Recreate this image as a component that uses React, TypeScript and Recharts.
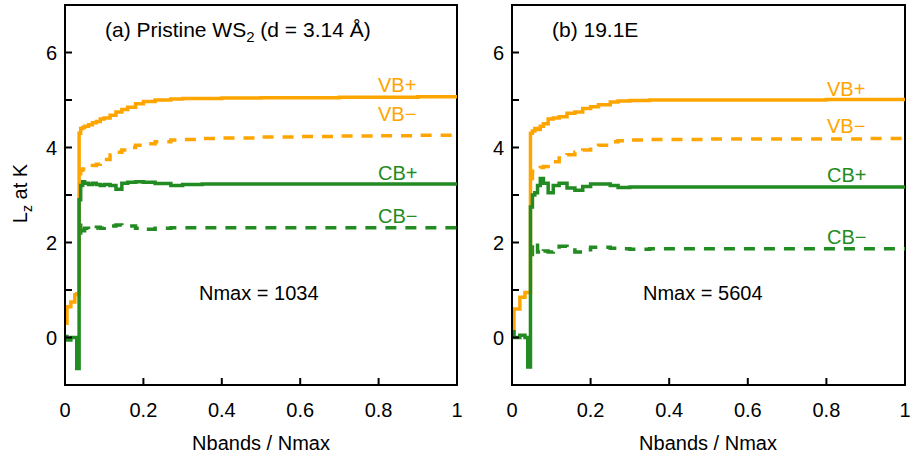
import { LineChart, Line, XAxis, YAxis, ReferenceArea } from 'recharts';

const ORANGE = '#FFA500';
const GREEN = '#228B22';
const FONT = '"Liberation Sans", Arial, sans-serif';

// panel (a) pristine WS2, Nmax = 1034
const xA = [0, 0.005, 0.015, 0.025, 0.03, 0.036, 0.04, 0.045, 0.05, 0.06, 0.07, 0.08, 0.09, 0.1, 0.115, 0.13, 0.145, 0.16, 0.18, 0.2, 0.23, 0.27, 0.3, 0.35, 0.4, 0.5, 0.6, 0.7, 0.8, 0.9, 1];
const vbPlusA = [0.3, 0.65, 0.75, 0.9, 0.92, 4.3, 4.4, 4.42, 4.45, 4.48, 4.52, 4.55, 4.6, 4.62, 4.68, 4.75, 4.8, 4.85, 4.92, 4.97, 5.0, 5.02, 5.03, 5.03, 5.04, 5.05, 5.05, 5.06, 5.06, 5.07, 5.07];
const vbMinusA = [null, null, null, null, null, 3.45, 3.52, 3.55, 3.55, 3.58, 3.62, 3.65, 3.68, 3.75, 3.84, 3.9, 3.95, 4.0, 4.05, 4.08, 4.12, 4.16, 4.17, 4.19, 4.2, 4.22, 4.23, 4.24, 4.25, 4.26, 4.26];
const cbPlusA = [0.02, -0.05, 0, 0, -0.65, 2.9, 3.2, 3.28, 3.25, 3.22, 3.25, 3.22, 3.2, 3.22, 3.2, 3.12, 3.25, 3.27, 3.28, 3.27, 3.24, 3.2, 3.22, 3.23, 3.23, 3.23, 3.23, 3.23, 3.23, 3.23, 3.23];
const cbMinusA = [null, null, null, null, null, 2.2, 2.42, 2.25, 2.3, 2.28, 2.3, 2.32, 2.3, 2.33, 2.35, 2.37, 2.36, 2.35, 2.3, 2.28, 2.3, 2.31, 2.31, 2.31, 2.31, 2.31, 2.31, 2.31, 2.31, 2.31, 2.31];

// panel (b) 19.1E, Nmax = 5604
const xB = [0, 0.005, 0.02, 0.033, 0.04, 0.047, 0.052, 0.058, 0.065, 0.072, 0.08, 0.092, 0.105, 0.12, 0.14, 0.16, 0.18, 0.2, 0.22, 0.25, 0.27, 0.3, 0.35, 0.4, 0.5, 0.6, 0.7, 0.8, 0.9, 1];
const vbPlusB = [0.1, 0.6, 0.85, 0.95, 0.95, 4.3, 4.35, 4.4, 4.38, 4.45, 4.5, 4.6, 4.62, 4.65, 4.72, 4.75, 4.82, 4.86, 4.9, 4.96, 4.98, 4.99, 5.0, 5.0, 5.0, 5.0, 5.0, 5.01, 5.01, 5.01];
const vbMinusB = [null, null, null, null, null, 3.35, 3.5, 3.52, 3.55, 3.58, 3.6, 3.65, 3.7, 3.78, 3.85, 3.9, 3.95, 4.0, 4.05, 4.12, 4.14, 4.16, 4.17, 4.17, 4.18, 4.18, 4.18, 4.18, 4.19, 4.19];
const cbPlusB = [0.12, 0, 0.05, 0, -0.62, 2.75, 3.0, 3.05, 3.2, 3.35, 3.25, 3.05, 3.2, 3.25, 3.15, 3.1, 3.18, 3.23, 3.23, 3.2, 3.16, 3.17, 3.17, 3.17, 3.17, 3.17, 3.17, 3.17, 3.17, 3.17];
const cbMinusB = [null, null, null, null, null, 1.75, 1.95, 2.0, 1.8, 1.75, 1.82, 1.8, 1.85, 1.92, 1.9, 1.8, 1.85, 1.9, 1.9, 1.88, 1.87, 1.86, 1.87, 1.87, 1.87, 1.87, 1.87, 1.87, 1.87, 1.87];

const xTicks = [0, 0.2, 0.4, 0.6, 0.8, 1];
const yTicks = [-1, 0, 1, 2, 3, 4, 5, 6, 7];

const build = (x: number[], vbp: any[], vbm: any[], cbp: any[], cbm: any[]) =>
  x.map((v, i) => ({ x: v, vbp: vbp[i], vbm: vbm[i], cbp: cbp[i], cbm: cbm[i] }));

const dataA = build(xA, vbPlusA, vbMinusA, cbPlusA, cbMinusA);
const dataB = build(xB, vbPlusB, vbMinusB, cbPlusB, cbMinusB);

const tickStyle = { fill: '#000', fontSize: 20, fontFamily: FONT };

const Panel = ({ data, width, right }: { data: any[]; width: number; right: number }) => (
  <LineChart width={width} height={462} data={data} margin={{ top: 5, right, bottom: 0, left: 0 }}>
    <XAxis
      type="number"
      dataKey="x"
      domain={[0, 1]}
      ticks={xTicks}
      tickFormatter={(v) => String(v)}
      height={77}
      tickSize={-7}
      tickMargin={25}
      tick={tickStyle}
      stroke="#000"
      strokeWidth={2}
      allowDataOverflow
    />
    <YAxis
      type="number"
      domain={[-1, 7]}
      ticks={yTicks}
      tickFormatter={(v) => (v >= 0 && v % 2 === 0 && v < 7 ? String(v) : '')}
      width={65}
      tickSize={-7}
      tickMargin={15}
      tick={tickStyle}
      stroke="#000"
      strokeWidth={2}
      allowDataOverflow
    />
    <ReferenceArea x1={0} x2={1} y1={-1} y2={7} fill="none" stroke="#000" strokeWidth={2} />
    <Line type="stepAfter" dataKey="vbm" stroke={ORANGE} strokeWidth={3.5} strokeDasharray="11 9" dot={false} isAnimationActive={false} />
    <Line type="stepAfter" dataKey="cbm" stroke={GREEN} strokeWidth={3.5} strokeDasharray="11 9" dot={false} isAnimationActive={false} />
    <Line type="stepAfter" dataKey="vbp" stroke={ORANGE} strokeWidth={3.5} dot={false} isAnimationActive={false} />
    <Line type="stepAfter" dataKey="cbp" stroke={GREEN} strokeWidth={3.5} dot={false} isAnimationActive={false} />
  </LineChart>
);

const Txt = ({ left, top, color = '#000', size = 20, children }: any) => (
  <div style={{ position: 'absolute', left, top, color, fontSize: size, lineHeight: '20px', fontFamily: FONT, whiteSpace: 'nowrap' }}>
    {children}
  </div>
);

const Centered = ({ cx, top, children }: any) => (
  <div style={{ position: 'absolute', left: cx - 150, top, width: 300, textAlign: 'center', fontSize: 20, lineHeight: '20px', fontFamily: FONT }}>
    {children}
  </div>
);

export default function App() {
  return (
    <div style={{ position: 'absolute', left: 0, top: 0, width: 913, height: 462, background: '#fff', overflow: 'hidden' }}>
      <div style={{ position: 'absolute', left: 0, top: 0 }}>
        <Panel data={dataA} width={470} right={13} />
      </div>
      <div style={{ position: 'absolute', left: 447, top: 0 }}>
        <Panel data={dataB} width={466} right={8} />
      </div>

      <div
        style={{
          position: 'absolute', left: 23 - 100, top: 190 - 10, width: 200, textAlign: 'center',
          fontSize: 20, lineHeight: '20px', fontFamily: FONT, transform: 'rotate(-90deg)',
        }}
      >
        L<sub style={{ fontSize: 14 }}>z</sub> at K
      </div>

      <Txt left={105} top={20} size={21}>(a) Pristine WS<sub style={{ fontSize: 15 }}>2</sub> (d = 3.14 Å)</Txt>
      <Txt left={552} top={20} size={21}>(b) 19.1E</Txt>
      <Txt left={199} top={283}>Nmax = 1034</Txt>
      <Txt left={643} top={283}>Nmax = 5604</Txt>

      <Txt left={378} top={75} color={ORANGE}>VB+</Txt>
      <Txt left={378} top={104} color={ORANGE}>VB−</Txt>
      <Txt left={378} top={163} color={GREEN}>CB+</Txt>
      <Txt left={378} top={206} color={GREEN}>CB−</Txt>
      <Txt left={827} top={79} color={ORANGE}>VB+</Txt>
      <Txt left={827} top={116} color={ORANGE}>VB−</Txt>
      <Txt left={827} top={165} color={GREEN}>CB+</Txt>
      <Txt left={827} top={227} color={GREEN}>CB−</Txt>

      <Centered cx={261} top={433}>Nbands / Nmax</Centered>
      <Centered cx={708} top={433}>Nbands / Nmax</Centered>
    </div>
  );
}
